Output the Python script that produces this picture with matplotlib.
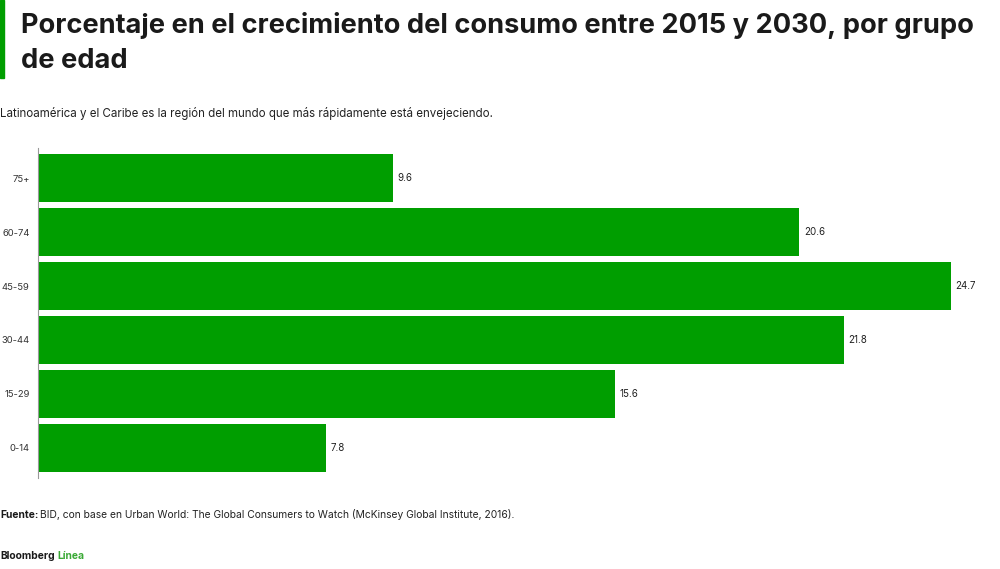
import numpy as np
import matplotlib.pyplot as plt
from matplotlib.patches import Rectangle

# data
groups = ['0-14', '15-29', '30-44', '45-59', '60-74', '75+']
growth = [7.8, 15.6, 21.8, 24.7, 20.6, 9.6]

green = '#009e00'
dark = '#1a1a1a'

fig = plt.figure(figsize=(10, 5.69), dpi=100)
W, H = 1000, 569

# axes placed in pixel coords: spine at x=38, bars span y 148..478
ax = fig.add_axes([38 / W, 1 - 478 / H, (951 - 38) / W, (478 - 148) / H])
y = np.arange(len(groups))
ax.barh(y, growth, height=0.89, color=green)
ax.set_xlim(0, max(growth))
ax.set_ylim(-0.556, len(groups) - 0.444)
ax.set_yticks(y)
ax.set_yticklabels(groups, fontsize=6.8, color='#333333', family='Inter')
ax.tick_params(axis='y', length=0, pad=6)
ax.set_xticks([])
for s in ['top', 'right', 'bottom']:
    ax.spines[s].set_visible(False)
ax.spines['left'].set_color('#999999')
ax.spines['left'].set_linewidth(0.8)
for yi, v in zip(y, growth):
    ax.text(v + 0.12, yi, '{:.1f}'.format(v), va='center', ha='left',
            fontsize=7, color='#222222', family='Inter', clip_on=False)

# left accent bar
fig.patches.append(Rectangle((0, 1 - 78 / H), 4 / W, 78 / H, transform=fig.transFigure,
                             color=green, zorder=5))

fig.text(21 / W, 1 - 12 / H,
         'Porcentaje en el crecimiento del consumo entre 2015 y 2030, por grupo\nde edad',
         fontsize=19.6, fontweight='bold', family='Inter', color=dark,
         va='top', ha='left', linespacing=1.45)
fig.text(0, 1 - 113 / H,
         'Latinoamérica y el Caribe es la región del mundo que más rápidamente está envejeciendo.',
         fontsize=8.3, family='Inter', color='#222222', va='center', ha='left')

src = fig.text(0, 1 - 515 / H, 'Fuente:', fontsize=7.4, fontweight='bold',
               family='Inter', color=dark, va='center', ha='left')
fig.canvas.draw()
bb = src.get_window_extent()
fig.text(bb.x1 / W + 2 / W, 1 - 515 / H,
         'BID, con base en Urban World: The Global Consumers to Watch (McKinsey Global Institute, 2016).',
         fontsize=7.4, family='Inter', color='#222222', va='center', ha='left')

logo = fig.text(0, 1 - 556 / H, 'Bloomberg', fontsize=7.4, fontweight='bold',
                family='Inter', color=dark, va='center', ha='left')
fig.canvas.draw()
bb = logo.get_window_extent()
fig.text(bb.x1 / W + 3 / W, 1 - 556 / H, 'Línea', fontsize=7.4, fontweight='bold',
         family='Inter', color='#3aa935', va='center', ha='left')

fig.savefig('out.png', dpi=100, facecolor='white')
